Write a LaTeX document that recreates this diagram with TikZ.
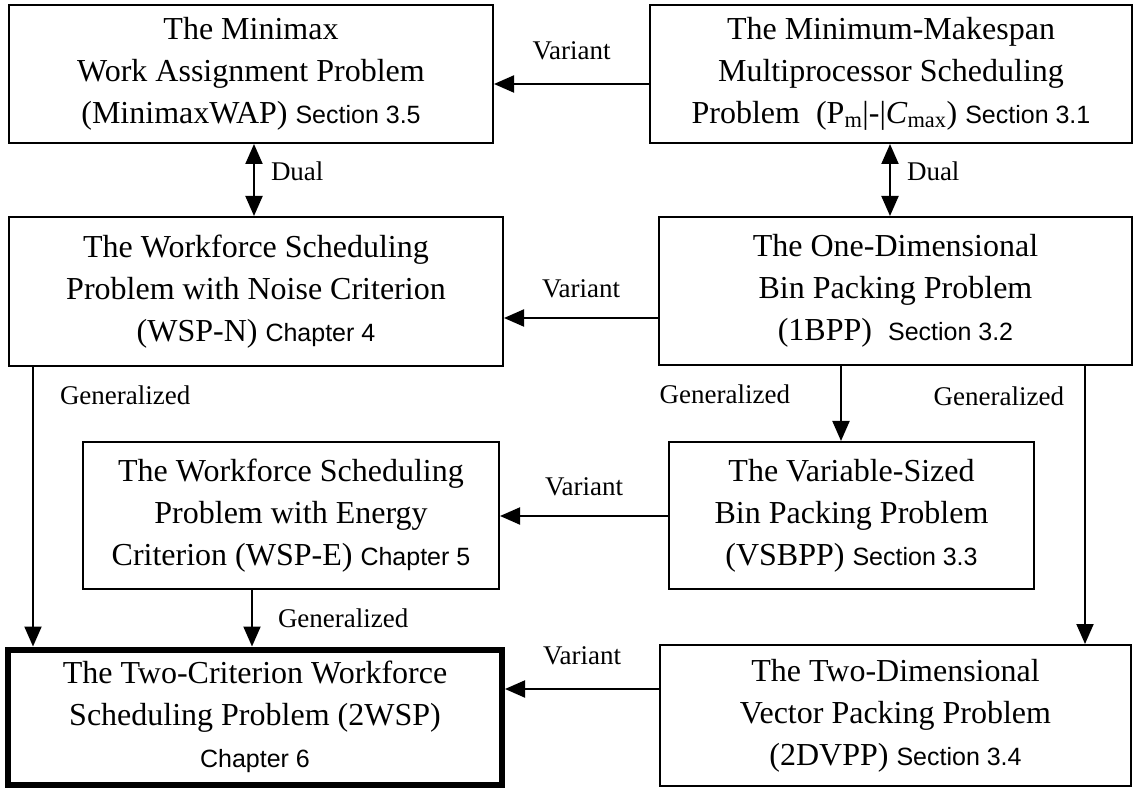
\documentclass[tikz,border=0pt]{standalone}
\usepackage{fontspec}
\setmainfont{Liberation Serif}
\newfontfamily\secfont{Liberation Sans}
\usetikzlibrary{arrows.meta, positioning}
\newcommand\sectag[1]{{\secfont\fontsize{25}{30}\selectfont #1}}

\begin{document}
\begin{tikzpicture}[x=1pt, y=-1pt, line width=2pt,
  box/.style={draw, align=center, inner sep=0pt, font=\fontsize{32}{42}\selectfont},
  lbl/.style={font=\fontsize{27}{30}\selectfont, inner sep=0pt},
  arr/.style={-{Triangle[length=20pt, width=17pt]}},
  dual/.style={{Triangle[length=20pt, width=17pt]}-{Triangle[length=20pt, width=17pt]}}]
  \useasboundingbox (0,0) rectangle (1138,791);

  % problems
  \node[box, minimum width=484pt, minimum height=138pt] (minimax) at (251,74)
    {The Minimax\\Work Assignment Problem\\(MinimaxWAP) \sectag{Section 3.5}};
  \node[box, minimum width=482pt, minimum height=138pt] (makespan) at (891,74)
    {The Minimum-Makespan\\Multiprocessor Scheduling\\Problem~~(P\textsubscript{m}|-|\textit{C}\textsubscript{max}) \sectag{Section 3.1}};
  \node[box, minimum width=494pt, minimum height=149pt] (wspn) at (256,291.5)
    {The Workforce Scheduling\\Problem with Noise Criterion\\(WSP-N) \sectag{Chapter 4}};
  \node[box, minimum width=473pt, minimum height=148pt] (onebpp) at (895.5,291)
    {The One-Dimensional\\Bin Packing Problem\\(1BPP)~ \sectag{Section 3.2}};
  \node[box, minimum width=416pt, minimum height=147pt] (wspe) at (291,515.5)
    {The Workforce Scheduling\\Problem with Energy\\Criterion (WSP-E) \sectag{Chapter 5}};
  \node[box, minimum width=365pt, minimum height=147pt] (vsbpp) at (851.5,515.5)
    {The Variable-Sized\\Bin Packing Problem\\(VSBPP) \sectag{Section 3.3}};
  \node[box, line width=6pt, minimum width=494pt, minimum height=135pt] (twowsp) at (255,717)
    {The Two-Criterion Workforce\\Scheduling Problem (2WSP)\\\sectag{Chapter 6}};
  \node[box, minimum width=471pt, minimum height=141pt] (twodvpp) at (895.5,715.5)
    {The Two-Dimensional\\Vector Packing Problem\\(2DVPP) \sectag{Section 3.4}};

  % relations
  \draw[arr] (makespan.west |- 0,84) -- (minimax.east |- 0,84)
    node[lbl, midway, above=23pt] {Variant};
  \draw[dual] (minimax.south -| 254,0) -- (wspn.north -| 254,0)
    node[lbl, pos=0.38, right=16pt] {Dual};
  \draw[dual] (makespan.south -| 890,0) -- (onebpp.north -| 890,0)
    node[lbl, pos=0.38, right=16pt] {Dual};
  \draw[arr] (onebpp.west |- 0,318) -- (wspn.east |- 0,318)
    node[lbl, midway, above=19pt] {Variant};
  \draw[arr] (wspn.south -| 33,0) -- (twowsp.north -| 33,0)
    node[lbl, pos=0.1, right=26pt] {Generalized};
  \draw[arr] (onebpp.south -| 841,0) -- (vsbpp.north -| 841,0)
    node[lbl, pos=0.38, left=50pt] {Generalized};
  \draw[arr] (onebpp.south -| 1085,0) -- (twodvpp.north -| 1085,0)
    node[lbl, pos=0.11, left=20pt] {Generalized};
  \draw[arr] (vsbpp.west |- 0,516) -- (wspe.east |- 0,516)
    node[lbl, midway, above=19pt] {Variant};
  \draw[arr] (wspe.south -| 252,0) -- (twowsp.north -| 252,0)
    node[lbl, midway, right=25pt] {Generalized};
  \draw[arr] (twodvpp.west |- 0,689) -- (twowsp.east |- 0,689)
    node[lbl, midway, above=23pt] {Variant};
\end{tikzpicture}
\end{document}
